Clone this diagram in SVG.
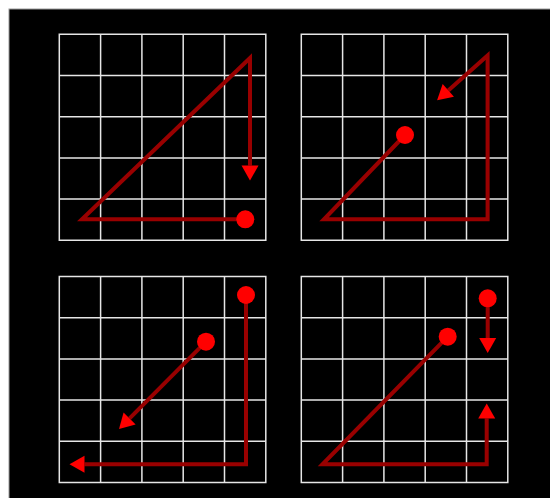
<svg xmlns="http://www.w3.org/2000/svg" xmlns:xlink="http://www.w3.org/1999/xlink" width="550" height="498" viewBox="0 0 550 498">
  <style>
    .grid { fill: none; stroke: #e6e6e6; stroke-width: 1.5; }
    .line { fill: none; stroke: #990000; stroke-width: 4; stroke-linejoin: miter; }
    .dot { fill: #ff0000; }
  </style>
  <defs>
    <marker id="ah" markerUnits="userSpaceOnUse" markerWidth="16" markerHeight="18" refX="0" refY="8.5" orient="auto" overflow="visible">
      <path d="M0,0 L15,8.5 L0,17 Z" fill="#ff0000"/>
    </marker>
    <path id="gridpath" class="grid" d="M0,0 H206.5 V206 H0 Z M41.3,0 V206 M82.6,0 V206 M123.9,0 V206 M165.2,0 V206 M0,41.2 H206.5 M0,82.4 H206.5 M0,123.6 H206.5 M0,164.8 H206.5"/>
  </defs>
  <rect x="9" y="9" width="542" height="490" fill="#000" stroke="#999" stroke-width="1"/>

  <g id="panel1">
    <use xlink:href="#gridpath" transform="translate(59.3,34.3)"/>
  </g>
  <g id="panel2">
    <use xlink:href="#gridpath" transform="translate(301.3,34.3)"/>
  </g>
  <g id="panel3">
    <use xlink:href="#gridpath" transform="translate(59.3,276.5)"/>
  </g>
  <g id="panel4">
    <use xlink:href="#gridpath" transform="translate(301.3,276.5)"/>
  </g>

  <g id="connectors">
    <path class="line" d="M245.3,219.3 L82,219.3 L250,58 L250,165.5" marker-end="url(#ah)"/>
    <path class="line" d="M405,135 L324,219.3 L487.6,219.3 L487.6,55.5 L448.3,90.4" marker-end="url(#ah)"/>
    <path class="line" d="M246,295 L246,464.3 L84.5,464.3" marker-end="url(#ah)"/>
    <path class="line" d="M206,341.7 L129.6,418.4" marker-end="url(#ah)"/>
    <path class="line" d="M487.7,298.3 L487.7,338" marker-end="url(#ah)"/>
    <path class="line" d="M447.7,336.7 L322.5,464.3 L486.7,464.3 L486.7,418.5" marker-end="url(#ah)"/>
  </g>

  <g id="dots">
    <circle class="dot" cx="245.3" cy="219.3" r="9"/>
    <circle class="dot" cx="405" cy="135" r="9"/>
    <circle class="dot" cx="246" cy="295" r="9"/>
    <circle class="dot" cx="206" cy="341.7" r="9"/>
    <circle class="dot" cx="487.7" cy="298.3" r="9"/>
    <circle class="dot" cx="447.7" cy="336.7" r="9"/>
  </g>
</svg>
